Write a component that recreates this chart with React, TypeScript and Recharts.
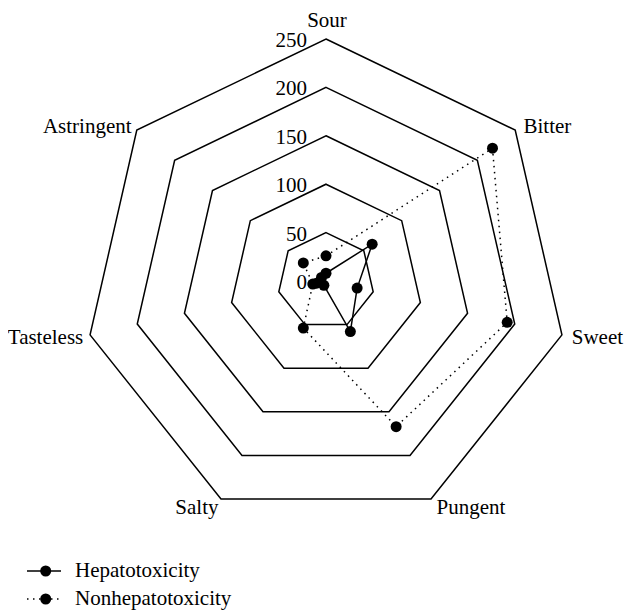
import React from 'react';
import { RadarChart, Radar, PolarGrid, PolarAngleAxis, PolarRadiusAxis, Legend } from 'recharts';

const tastes = ['Sour', 'Bitter', 'Sweet', 'Pungent', 'Salty', 'Tasteless', 'Astringent'];
const hepatotoxicity = [8, 61, 33, 58, 5, 10, 6];
const nonhepatotoxicity = [26, 220, 192, 167, 54, 14, 30];
const radiusTicks = [0, 50, 100, 150, 200, 250];
const seriesNames = ['Hepatotoxicity', 'Nonhepatotoxicity'];

const data = tastes.map((t, i) => ({ taste: t, hep: hepatotoxicity[i], non: nonhepatotoxicity[i] }));

const FONT = '"Liberation Serif", "DejaVu Serif", serif';
const CX = 318;
const CY = 273;
const R = 242;

const AngleTick = (props: any) => {
  const { x, y, payload, textAnchor } = props;
  let dx = 0;
  let dy = 7.5;
  if (textAnchor === 'middle') {
    dx = 1;
    dy = y < CY ? -4 : 20;
  } else if (textAnchor === 'start') {
    dx = 2;
  } else {
    dx = 1;
  }
  return (
    <text x={x + dx} y={y + dy} textAnchor={textAnchor} fontFamily={FONT} fontSize={21} fill="#000">
      {payload.value}
    </text>
  );
};

const RadiusTick = (props: any) => {
  const { x, y, payload } = props;
  return (
    <text x={x - 19} y={y + 8} textAnchor="end" fontFamily={FONT} fontSize={21} fill="#000">
      {payload.value}
    </text>
  );
};

const Dot = (props: any) => {
  const { cx, cy, index } = props;
  if (cx == null || cy == null) return null;
  return <circle key={`dot-${index}`} cx={cx} cy={cy} r={5.5} fill="#000" stroke="none" />;
};

const LegendContent = () => (
  <svg width={320} height={60} style={{ display: 'block' }}>
    <line x1={19} x2={53} y1={20} y2={20} stroke="#000" strokeWidth={1.5} />
    <circle cx={37.7} cy={20} r={5.5} fill="#000" />
    <text x={67} y={26} fontFamily={FONT} fontSize={21} fill="#000">{seriesNames[0]}</text>
    <line x1={19} x2={53} y1={48} y2={48} stroke="#000" strokeWidth={1.5} strokeDasharray="1.5 4.5" />
    <circle cx={37.7} cy={48} r={5.5} fill="#000" />
    <text x={67} y={54} fontFamily={FONT} fontSize={21} fill="#000">{seriesNames[1]}</text>
  </svg>
);

export default function App() {
  return (
    <RadarChart
      width={626}
      height={603}
      data={data}
      cx={CX}
      cy={CY}
      outerRadius={R}
      margin={{ top: 0, right: 0, bottom: 0, left: 0 }}
    >
      <PolarGrid gridType="polygon" radialLines={false} stroke="#000" strokeWidth={1.5} />
      <PolarAngleAxis dataKey="taste" tick={<AngleTick />} tickLine={false} axisLine={false} />
      <PolarRadiusAxis
        angle={90}
        domain={[0, 250]}
        ticks={radiusTicks as any}
        tickCount={6}
        tick={<RadiusTick />}
        axisLine={false}
        tickLine={false}
      />
      <Radar
        name={seriesNames[0]}
        dataKey="hep"
        stroke="#000"
        strokeWidth={1.5}
        fill="none"
        fillOpacity={0}
        dot={Dot}
        isAnimationActive={false}
      />
      <Radar
        name={seriesNames[1]}
        dataKey="non"
        stroke="#000"
        strokeWidth={1.5}
        strokeDasharray="1.5 4.5"
        fill="none"
        fillOpacity={0}
        dot={Dot}
        isAnimationActive={false}
      />
      <Legend
        verticalAlign="bottom"
        layout="horizontal"
        content={<LegendContent />}
        wrapperStyle={{ left: 0, bottom: 0, width: 320, height: 60 }}
      />
    </RadarChart>
  );
}
